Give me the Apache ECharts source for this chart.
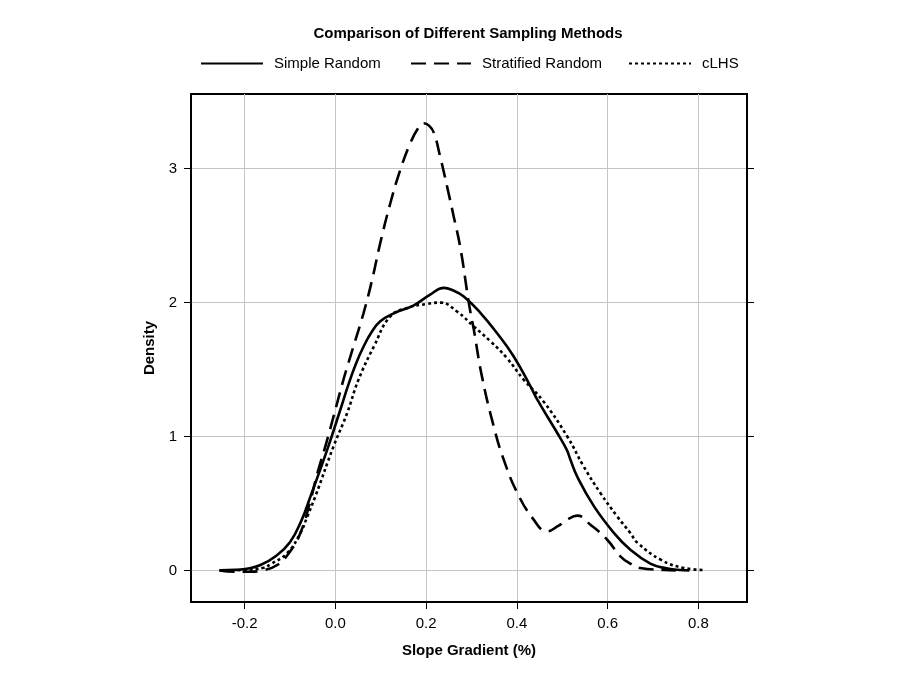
<!DOCTYPE html>
<html>
<head>
<meta charset="utf-8">
<script src="https://cdn.jsdelivr.net/npm/echarts@6/dist/echarts.min.js"></script>
<style>html,body{margin:0;padding:0;background:#fff}#c{width:900px;height:700px}</style>
</head>
<body>
<div id="c"></div>
<script>
const titleText = 'Comparison of Different Sampling Methods';
const seriesNames = ['Simple Random', 'Stratified Random', 'cLHS'];
const xTicks = [-0.2, 0.0, 0.2, 0.4, 0.6, 0.8];
const yTicks = [0, 1, 2, 3];
const xName = 'Slope Gradient (%)';
const yName = 'Density';

const simpleRandom = [
  [-0.255,0.0],[-0.22,0.004],[-0.195,0.012],[-0.165,0.04],[-0.13,0.11],[-0.1,0.21],[-0.075,0.37],
  [-0.055,0.55],[-0.018,0.90],[0.011,1.20],[0.028,1.38],[0.045,1.54],[0.062,1.67],[0.08,1.78],
  [0.099,1.86],[0.129,1.92],[0.173,1.98],[0.209,2.06],[0.239,2.11],[0.26,2.09],[0.283,2.046],
  [0.320,1.922],[0.356,1.773],[0.393,1.598],[0.430,1.374],[0.445,1.275],[0.489,1.026],[0.51,0.90],
  [0.518,0.827],[0.533,0.70],[0.570,0.478],[0.614,0.279],[0.650,0.155],[0.694,0.05],[0.73,0.015],
  [0.753,0.005],[0.78,0.0]
];
const stratifiedRandom = [
  [-0.255,0.0],[-0.22,-0.01],[-0.19,-0.01],[-0.16,0.0],[-0.128,0.04],[-0.1,0.14],[-0.077,0.279],
  [-0.055,0.52],[-0.04,0.72],[-0.02,0.95],[0.004,1.25],[0.02,1.45],[0.040,1.673],[0.062,1.92],
  [0.081,2.17],[0.099,2.445],[0.121,2.74],[0.143,2.99],[0.165,3.19],[0.182,3.30],[0.195,3.34],
  [0.207,3.32],[0.217,3.27],[0.231,3.09],[0.246,2.87],[0.261,2.64],[0.276,2.40],[0.294,2.0],
  [0.305,1.80],[0.323,1.449],[0.349,1.075],[0.371,0.827],[0.401,0.578],[0.437,0.379],[0.466,0.291],
  [0.49,0.33],[0.511,0.379],[0.533,0.409],[0.562,0.341],[0.599,0.229],[0.628,0.105],[0.65,0.05],
  [0.672,0.018],[0.724,0.003],[0.75,0.0]
];
const cLHS = [
  [-0.255,0.0],[-0.2,0.004],[-0.158,0.02],[-0.143,0.045],[-0.106,0.13],[-0.077,0.279],[-0.062,0.40],
  [-0.044,0.553],[-0.004,0.926],[0.026,1.175],[0.051,1.424],[0.085,1.673],[0.121,1.897],[0.158,1.96],
  [0.202,1.99],[0.231,2.0],[0.268,1.934],[0.305,1.822],[0.342,1.71],[0.378,1.586],[0.415,1.424],
  [0.459,1.26],[0.511,1.0],[0.547,0.777],[0.584,0.578],[0.621,0.403],[0.650,0.279],[0.666,0.205],
  [0.717,0.08],[0.768,0.018],[0.815,0.003]
];

const FONT = 'Liberation Sans, Arial, Helvetica, sans-serif';
const FS = 15;
const chart = echarts.init(document.getElementById('c'), null, {renderer: 'canvas'});

function legend(name, left, width) {
  return {
    data: [name], left: left, top: 56, padding: 0, itemWidth: width, itemHeight: 16,
    selectedMode: false,
    itemStyle: {opacity: 0},
    textStyle: {fontFamily: FONT, fontSize: FS, color: '#000', padding: [0, 0, 0, 6]}
  };
}

const tickStyle = {color: '#000', width: 1};

chart.setOption({
  animation: false,
  backgroundColor: '#fff',
  title: {
    text: titleText, left: 468, top: 26, padding: 0, textAlign: 'center',
    textStyle: {fontFamily: FONT, fontSize: FS, fontWeight: 'bold', color: '#000'}
  },
  legend: [
    legend(seriesNames[0], 200, 62),
    legend(seriesNames[1], 410, 60),
    legend(seriesNames[2], 628, 62)
  ],
  grid: {
    left: 191, right: 153, top: 94, bottom: 98,
    show: true, borderColor: '#000', borderWidth: 2, backgroundColor: 'transparent'
  },
  xAxis: {
    type: 'value', min: -0.318, max: 0.907, position: 'bottom',
    name: xName, nameLocation: 'middle', nameGap: 41,
    nameTextStyle: {fontFamily: FONT, fontSize: FS, fontWeight: 'bold', color: '#000'},
    axisLine: {show: true, onZero: false, lineStyle: {color: '#000', width: 2}},
    axisTick: {show: true, inside: false, customValues: xTicks, length: 7, lineStyle: tickStyle},
    axisLabel: {customValues: xTicks, margin: 14, fontFamily: FONT, fontSize: FS, color: '#000',
      formatter: v => v.toFixed(1)},
    splitLine: {show: true, lineStyle: {color: '#c4c4c4', width: 1}}
  },
  yAxis: [{
    type: 'value', min: -0.236, max: 3.558, position: 'left',
    name: yName, nameLocation: 'middle', nameGap: 34,
    nameTextStyle: {fontFamily: FONT, fontSize: FS, fontWeight: 'bold', color: '#000'},
    axisLine: {show: true, onZero: false, lineStyle: {color: '#000', width: 2}},
    axisTick: {show: true, inside: false, customValues: yTicks, length: 7, lineStyle: tickStyle},
    axisLabel: {customValues: yTicks, margin: 14, fontFamily: FONT, fontSize: FS, color: '#000',
      formatter: v => String(v)},
    splitLine: {show: true, lineStyle: {color: '#c4c4c4', width: 1}}
  }, {
    type: 'value', min: -0.236, max: 3.558, position: 'right',
    axisLine: {show: true, onZero: false, lineStyle: {color: '#000', width: 2}},
    axisTick: {show: true, inside: false, customValues: yTicks, length: 7, lineStyle: tickStyle},
    axisLabel: {show: false},
    splitLine: {show: false}
  }],
  series: [
    {name: seriesNames[0], type: 'line', data: simpleRandom, smooth: 0.45, symbol: 'none',
      lineStyle: {color: '#000', width: 2.6, type: 'solid'}, itemStyle: {color: '#000'}},
    {name: seriesNames[1], type: 'line', data: stratifiedRandom, smooth: 0.45, symbol: 'none',
      lineStyle: {color: '#000', width: 2.6, type: [15, 8]}, itemStyle: {color: '#000'}},
    {name: seriesNames[2], type: 'line', data: cLHS, smooth: 0.45, symbol: 'none',
      lineStyle: {color: '#000', width: 2.6, type: [3, 3]}, itemStyle: {color: '#000'}}
  ]
});
</script>
</body>
</html>
